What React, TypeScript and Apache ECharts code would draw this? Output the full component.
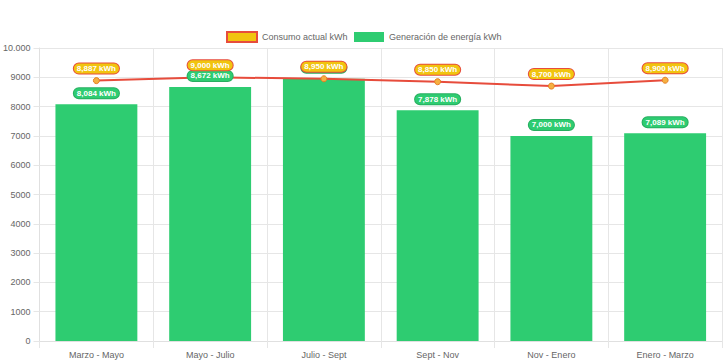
import React, { useEffect, useRef } from "react";
import * as echarts from "echarts";

const categories = ["Marzo - Mayo", "Mayo - Julio", "Julio - Sept", "Sept - Nov", "Nov - Enero", "Enero - Marzo"];
const consumo = [8887, 9000, 8950, 8850, 8700, 8900];
const generacion = [8084, 8672, 8950, 7878, 7000, 7089];
const yTicks = [0, 1000, 2000, 3000, 4000, 5000, 6000, 7000, 8000, 9000, 10000];

const FONT = "'Liberation Sans', Arial, Helvetica, sans-serif";
const fmt = (v: number) => v.toLocaleString("en-US") + " kWh";

const labelBase = {
  show: true,
  position: "top",
  formatter: (p: any) => fmt(p.value),
  color: "#fff",
  fontWeight: "bold",
  fontSize: 8,
  fontFamily: FONT,
  borderWidth: 1,
  borderRadius: 6,
  padding: [1, 3],
};

export default function App() {
  const ref = useRef<HTMLDivElement>(null);
  useEffect(() => {
    if (!ref.current) return;
    const chart = echarts.init(ref.current, undefined, { renderer: "svg" });
    chart.setOption({
      animation: false,
      textStyle: { fontFamily: FONT },
      grid: { left: 39, right: 6, top: 48, bottom: 22, containLabel: false },
      graphic: [
        { type: "rect", shape: { x: 227, y: 32, width: 30, height: 10 }, style: { fill: "#f1c40f", stroke: "#e74c3c", lineWidth: 2 } },
        { type: "text", x: 262, y: 37, style: { text: "Consumo actual kWh", fill: "#666", font: `9px ${FONT}`, verticalAlign: "middle" } },
        { type: "rect", shape: { x: 354, y: 32, width: 30, height: 10 }, style: { fill: "#2ecc71" } },
        { type: "text", x: 389, y: 37, style: { text: "Generación de energía kWh", fill: "#666", font: `9px ${FONT}`, verticalAlign: "middle" } },
      ],
      xAxis: {
        type: "category",
        data: categories,
        boundaryGap: true,
        axisLine: { lineStyle: { color: "#e0e0e0" } },
        axisTick: { show: true, length: 7, lineStyle: { color: "#e6e6e6" } },
        splitLine: { show: true, lineStyle: { color: "#e6e6e6" } },
        axisLabel: { color: "#666", fontSize: 9, fontFamily: FONT, margin: 9 },
      },
      yAxis: {
        type: "value",
        min: yTicks[0],
        max: yTicks[yTicks.length - 1],
        interval: 1000,
        axisLine: { show: true, lineStyle: { color: "#e0e0e0" } },
        axisTick: { show: true, length: 6, lineStyle: { color: "#e6e6e6" } },
        splitLine: { show: true, lineStyle: { color: "#e6e6e6" } },
        axisLabel: {
          color: "#666",
          fontSize: 9,
          fontFamily: FONT,
          margin: 9,
          formatter: (v: number) => (v >= 10000 ? v.toLocaleString("de-DE") : String(v)),
        },
      },
      series: [
        {
          name: "Generación de energía kWh",
          type: "bar",
          data: generacion,
          barWidth: "72%",
          itemStyle: { color: "#2ecc71" },
          z: 1,
        },
        {
          name: "Consumo actual kWh",
          type: "line",
          data: consumo,
          z: 2,
          symbol: "circle",
          symbolSize: 6,
          lineStyle: { color: "#e74c3c", width: 2 },
          itemStyle: { color: "#f5b041", borderColor: "#e67e22", borderWidth: 1 },
        },
        {
          name: "gen-labels",
          type: "scatter",
          data: generacion,
          symbolSize: 0,
          silent: true,
          z: 3,
          itemStyle: { opacity: 1 },
          label: { ...labelBase, distance: 6, backgroundColor: "#2ecc71", borderColor: "#27ae60" },
        },
        {
          name: "cons-labels",
          type: "scatter",
          data: consumo,
          symbolSize: 0,
          silent: true,
          z: 4,
          itemStyle: { opacity: 1 },
          label: { ...labelBase, distance: 7, backgroundColor: "#f1c40f", borderColor: "#e74c3c" },
        },
      ],
    });
    return () => chart.dispose();
  }, []);
  return <div ref={ref} style={{ width: 728, height: 363, position: "absolute", left: 0, top: 0 }} />;
}
